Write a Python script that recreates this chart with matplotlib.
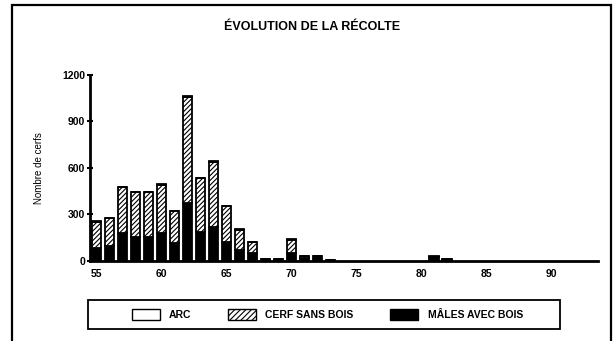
import numpy as np
import matplotlib.pyplot as plt
from matplotlib.patches import Rectangle

plt.rcParams['font.family'] = ['Liberation Sans Narrow', 'Liberation Sans', 'DejaVu Sans']
plt.rcParams['hatch.linewidth'] = 0.8

# saisons de chasse (19.. ) et récolte par catégorie
annees = [55, 56, 57, 58, 59, 60, 61, 62, 63, 64, 65, 66, 67, 68, 69, 70, 71, 72, 73, 81, 82]
males_avec_bois = [85, 100, 180, 157, 157, 180, 115, 372, 190, 220, 125, 70, 50, 8, 8, 50, 20, 30, 6, 28, 8]
cerf_sans_bois = [165, 175, 295, 285, 285, 310, 205, 685, 343, 420, 228, 132, 70, 3, 3, 85, 10, 3, 2, 0, 2]
arc = [5, 5, 5, 5, 5, 5, 5, 8, 5, 5, 4, 4, 2, 1, 1, 5, 5, 2, 1, 2, 0]

x_ticks = [55, 60, 65, 70, 75, 80, 85, 90]
y_ticks = [0, 300, 600, 900, 1200]

males = np.array(males_avec_bois)
sans_bois = np.array(cerf_sans_bois)

fig = plt.figure(figsize=(6.15, 3.41), dpi=100)
ax = fig.add_axes([0.146, 0.2346, 0.826, 0.5455])

w = 0.72
ax.bar(annees, males, w, color='black', edgecolor='black', linewidth=1.3)
ax.bar(annees, sans_bois, w, bottom=males, color='white', edgecolor='black',
       hatch='///////', linewidth=1.3)
ax.bar(annees, arc, w, bottom=males + sans_bois, color='white', edgecolor='black',
       linewidth=1.3)

ax.set_xlim(54.48, 93.6)
ax.set_ylim(0, 1200)
ax.set_xticks(x_ticks)
ax.set_yticks(y_ticks)
for lab in ax.get_xticklabels() + ax.get_yticklabels():
    lab.set_fontweight('bold')
    lab.set_fontsize(7.5)
ax.tick_params(axis='x', length=0, pad=6)
ax.tick_params(axis='y', direction='inout', length=5, width=1.5, pad=1)

for s in ['top', 'right']:
    ax.spines[s].set_visible(False)
ax.spines['left'].set_linewidth(2)
ax.spines['bottom'].set_linewidth(2)

ax.set_ylabel('Nombre de cerfs', fontsize=7, labelpad=13)
fig.text(0.508, 0.92, 'ÉVOLUTION DE LA RÉCOLTE', ha='center', va='center',
         fontsize=9, fontweight='bold')

# légende sous le graphique, dans son propre cadre
h_arc = Rectangle((0, 0), 1, 1, facecolor='white', edgecolor='black', linewidth=1)
h_sb = Rectangle((0, 0), 1, 1, facecolor='white', edgecolor='black', hatch='//////', linewidth=1)
h_mb = Rectangle((0, 0), 1, 1, facecolor='black', edgecolor='black', linewidth=1)
fig.legend([h_arc, h_sb, h_mb], ['ARC', 'CERF SANS BOIS', 'MÂLES AVEC BOIS'],
           loc='center', bbox_to_anchor=(0.532, 0.078), ncol=3, frameon=False,
           handlelength=2.7, handleheight=1.2, handletextpad=0.9,
           columnspacing=3.5, prop={'weight': 'bold', 'size': 7.5})
fig.patches.append(Rectangle((0.143, 0.035), 0.768, 0.085, transform=fig.transFigure,
                             fill=False, edgecolor='black', linewidth=1.3))

# cadre extérieur
fig.patches.append(Rectangle((0.02, -0.02), 0.973, 1.005, transform=fig.transFigure,
                             fill=False, edgecolor='black', linewidth=1.6))

fig.savefig('out.png', dpi=100)
